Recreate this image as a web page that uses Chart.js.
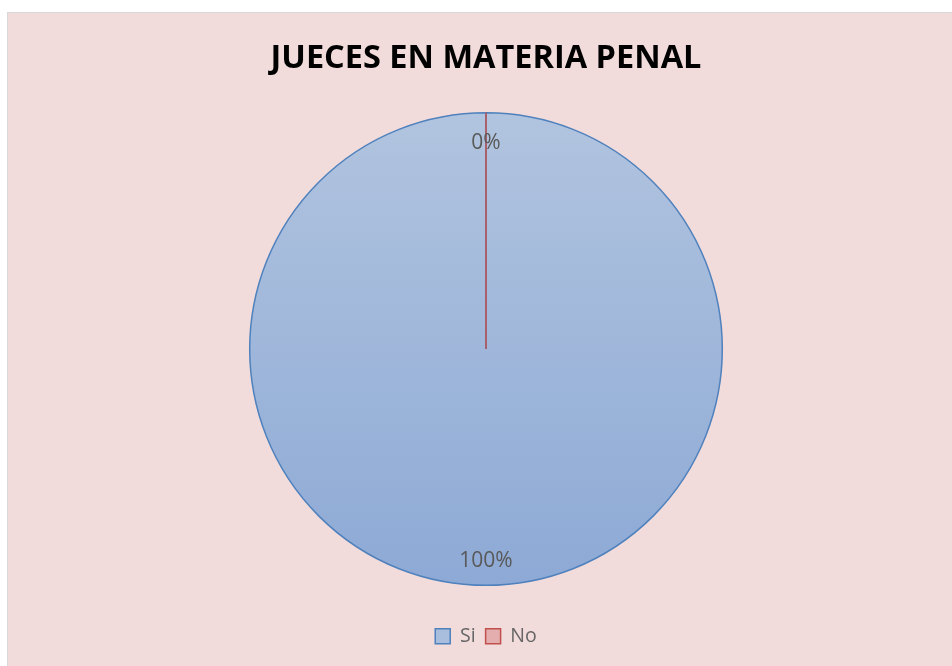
<!DOCTYPE html>
<html>
<head>
<meta charset="utf-8">
<script src="https://cdn.jsdelivr.net/npm/chart.js@4.4.0/dist/chart.umd.min.js"></script>
<style>
  body { margin: 0; background: #ffffff; }
  #box {
    position: absolute; left: 7px; top: 12px; width: 945px; height: 654px;
    background: #F2DCDB; border-left: 1px solid #D9D9D9; border-top: 1px solid #D9D9D9;
    box-sizing: border-box;
  }
</style>
</head>
<body>
<div id="box"><canvas id="pie-chart"></canvas></div>
<script>
// data
var categories = ['Si', 'No'];
var values = [100, 0];
var chartTitle = 'JUECES EN MATERIA PENAL';

// slice look
var sliceBorders = ['#4F81BD', '#C0504D'];
var gradTop = ['#B1C4DF', '#E8BDBC'];
var gradBottom = ['#8DA9D5', '#D99694'];
var legendFills = ['#A9BEDC', '#E3AEAD'];

var total = values.reduce(function (a, b) { return a + b; }, 0);

// draws the % labels and the border of empty slices (chart.js skips 0 arcs)
var sliceLabels = {
    id: 'sliceLabels',
    afterDatasetsDraw: function (chart) {
        var ctx = chart.ctx;
        var meta = chart.getDatasetMeta(0);
        ctx.save();
        meta.data.forEach(function (arc, i) {
            var p = arc.getProps(['x', 'y', 'startAngle', 'endAngle', 'outerRadius', 'circumference'], true);
            if (p.circumference === 0) {
                ctx.strokeStyle = sliceBorders[i];
                ctx.lineWidth = 1.5;
                ctx.beginPath();
                ctx.moveTo(p.x, p.y);
                ctx.lineTo(p.x + Math.cos(p.startAngle) * p.outerRadius, p.y + Math.sin(p.startAngle) * p.outerRadius);
                ctx.stroke();
            }
        });
        ctx.font = '21px "Open Sans"';
        ctx.fillStyle = '#595959';
        ctx.textAlign = 'center';
        ctx.textBaseline = 'middle';
        meta.data.forEach(function (arc, i) {
            var p = arc.getProps(['x', 'y', 'startAngle', 'endAngle', 'outerRadius'], true);
            var mid = (p.startAngle + p.endAngle) / 2;
            var r = p.outerRadius * 0.885;
            var pct = Math.round(values[i] / total * 100) + '%';
            ctx.fillText(pct, p.x + Math.cos(mid) * r, p.y + Math.sin(mid) * r + 3);
        });
        ctx.restore();
    }
};

var pieConfig = {
    type: 'pie',
    data: {
        labels: categories,
        datasets: [{
            data: values,
            backgroundColor: function (c) {
                var area = c.chart.chartArea;
                if (!area) return legendFills[c.dataIndex];
                var g = c.chart.ctx.createLinearGradient(0, area.top, 0, area.bottom);
                g.addColorStop(0, gradTop[c.dataIndex]);
                g.addColorStop(1, gradBottom[c.dataIndex]);
                return g;
            },
            borderColor: sliceBorders,
            borderWidth: 1.5
        }]
    },
    options: {
        responsive: true,
        maintainAspectRatio: false,
        animation: false,
        layout: { padding: { left: 12, bottom: 10 } },
        plugins: {
            title: {
                display: true,
                text: chartTitle,
                color: '#000000',
                font: { family: '"Open Sans"', size: 32.5, weight: 'bold' },
                padding: { top: 26, bottom: 34 }
            },
            legend: {
                position: 'bottom',
                title: { display: true, text: '', padding: { top: 16, bottom: 0 } },
                labels: {
                    color: '#595959',
                    font: { family: '"Open Sans"', size: 19.5 },
                    boxWidth: 15,
                    boxHeight: 15,
                    padding: 10,
                    generateLabels: function (chart) {
                        return categories.map(function (name, i) {
                            return {
                                text: name,
                                fillStyle: legendFills[i],
                                strokeStyle: sliceBorders[i],
                                lineWidth: 1.5,
                                index: i
                            };
                        });
                    }
                }
            },
            tooltip: { enabled: false }
        }
    },
    plugins: [sliceLabels]
};

var pieContext = document.getElementById('pie-chart').getContext('2d');
window.myPie = new Chart(pieContext, pieConfig);
</script>
</body>
</html>
